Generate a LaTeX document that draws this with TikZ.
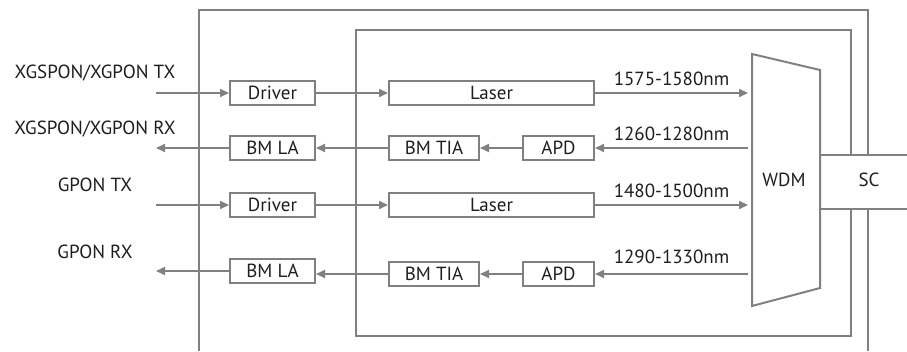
\documentclass[tikz,border=0pt]{standalone}
\usepackage{fontspec}
\setmainfont{PT Sans}
\usepackage{xcolor}
\usetikzlibrary{arrows.meta,positioning,calc}
\definecolor{linegray}{RGB}{128,128,128}
\definecolor{txtgray}{RGB}{30,30,30}

\begin{document}
\begin{tikzpicture}[x=1pt,y=-1pt,>={Triangle[length=9pt,width=8pt]},
 blk/.style={draw=linegray,line width=2pt,minimum height=24pt,inner sep=0pt,
  text=txtgray,font=\fontsize{19}{22}\selectfont},
 lbl/.style={text=txtgray,inner sep=0pt,font=\fontsize{19}{22}\selectfont},
 sig/.style={draw=linegray,line width=2pt,->},
 frame/.style={draw=linegray,line width=2pt}]
 \useasboundingbox (0,0) rectangle (907,351);
 \draw[frame] (868,155)--(868,10)--(199,10)--(199,351);
 \draw[frame] (868,209)--(868,351);
 \draw[frame] (851,155)--(851,30)--(356,30)--(356,336)--(851,336)--(851,209);
 \draw[frame] (752,54)--(820,70)--(820,288)--(752,306)--cycle;
 \draw[frame] (820,155)--(907,155);
 \draw[frame] (820,209)--(907,209);
 \node[lbl] (wdm) at (784,180) {WDM};
 \node[lbl] (sc) at (869,180) {SC};
 \node[lbl] (xtx) at (95,73) {XGSPON/XGPON TX};
 \node[lbl] (xrx) at (95,129) {XGSPON/XGPON RX};
 \node[lbl] (gtx) at (95,185) {GPON TX};
 \node[lbl] (grx) at (95,252) {GPON RX};
 \node[blk,minimum width=85pt] (drv1) at (272.5,93) {Driver};
 \node[blk,minimum width=205pt] (las1) at (491.5,93) {Laser};
 \node[blk,minimum width=85pt] (la1) at (272.5,148) {BM LA};
 \node[blk,minimum width=90pt] (tia1) at (434,148) {BM TIA};
 \node[blk,minimum width=71pt] (apd1) at (558.5,148) {APD};
 \node[blk,minimum width=85pt] (drv2) at (272.5,205) {Driver};
 \node[blk,minimum width=205pt] (las2) at (491.5,205) {Laser};
 \node[blk,minimum width=85pt] (la2) at (272.5,271) {BM LA};
 \node[blk,minimum width=90pt] (tia2) at (434,274) {BM TIA};
 \node[blk,minimum width=71pt] (apd2) at (558.5,274) {APD};
 \coordinate (in1) at (156,93);
 \coordinate (out1) at (156,148);
 \coordinate (in2) at (156,205);
 \coordinate (out2) at (156,271);
 \coordinate (w1) at (748,93);
 \coordinate (w2) at (748,148);
 \coordinate (w3) at (748,205);
 \coordinate (w4) at (748,274);
 \draw[sig] (in1)--(drv1);
 \draw[sig] (drv1)--(las1);
 \draw[sig] (las1)--(w1) node[lbl,midway,above=6pt] (nm1) {1575-1580nm};
 \draw[sig] (w2)--(apd1) node[lbl,midway,above=6pt] (nm2) {1260-1280nm};
 \draw[sig] (apd1)--(tia1);
 \draw[sig] (tia1)--(la1);
 \draw[sig] (la1)--(out1);
 \draw[sig] (in2)--(drv2);
 \draw[sig] (drv2)--(las2);
 \draw[sig] (las2)--(w3) node[lbl,midway,above=6pt] (nm3) {1480-1500nm};
 \draw[sig] (w4)--(apd2) node[lbl,midway,above=9pt] (nm4) {1290-1330nm};
 \draw[sig] (apd2)--(tia2);
 \draw[sig] (tia2.west)--(tia2.west-|la2.east);
 \draw[sig] (la2)--(out2);
\end{tikzpicture}
\end{document}
